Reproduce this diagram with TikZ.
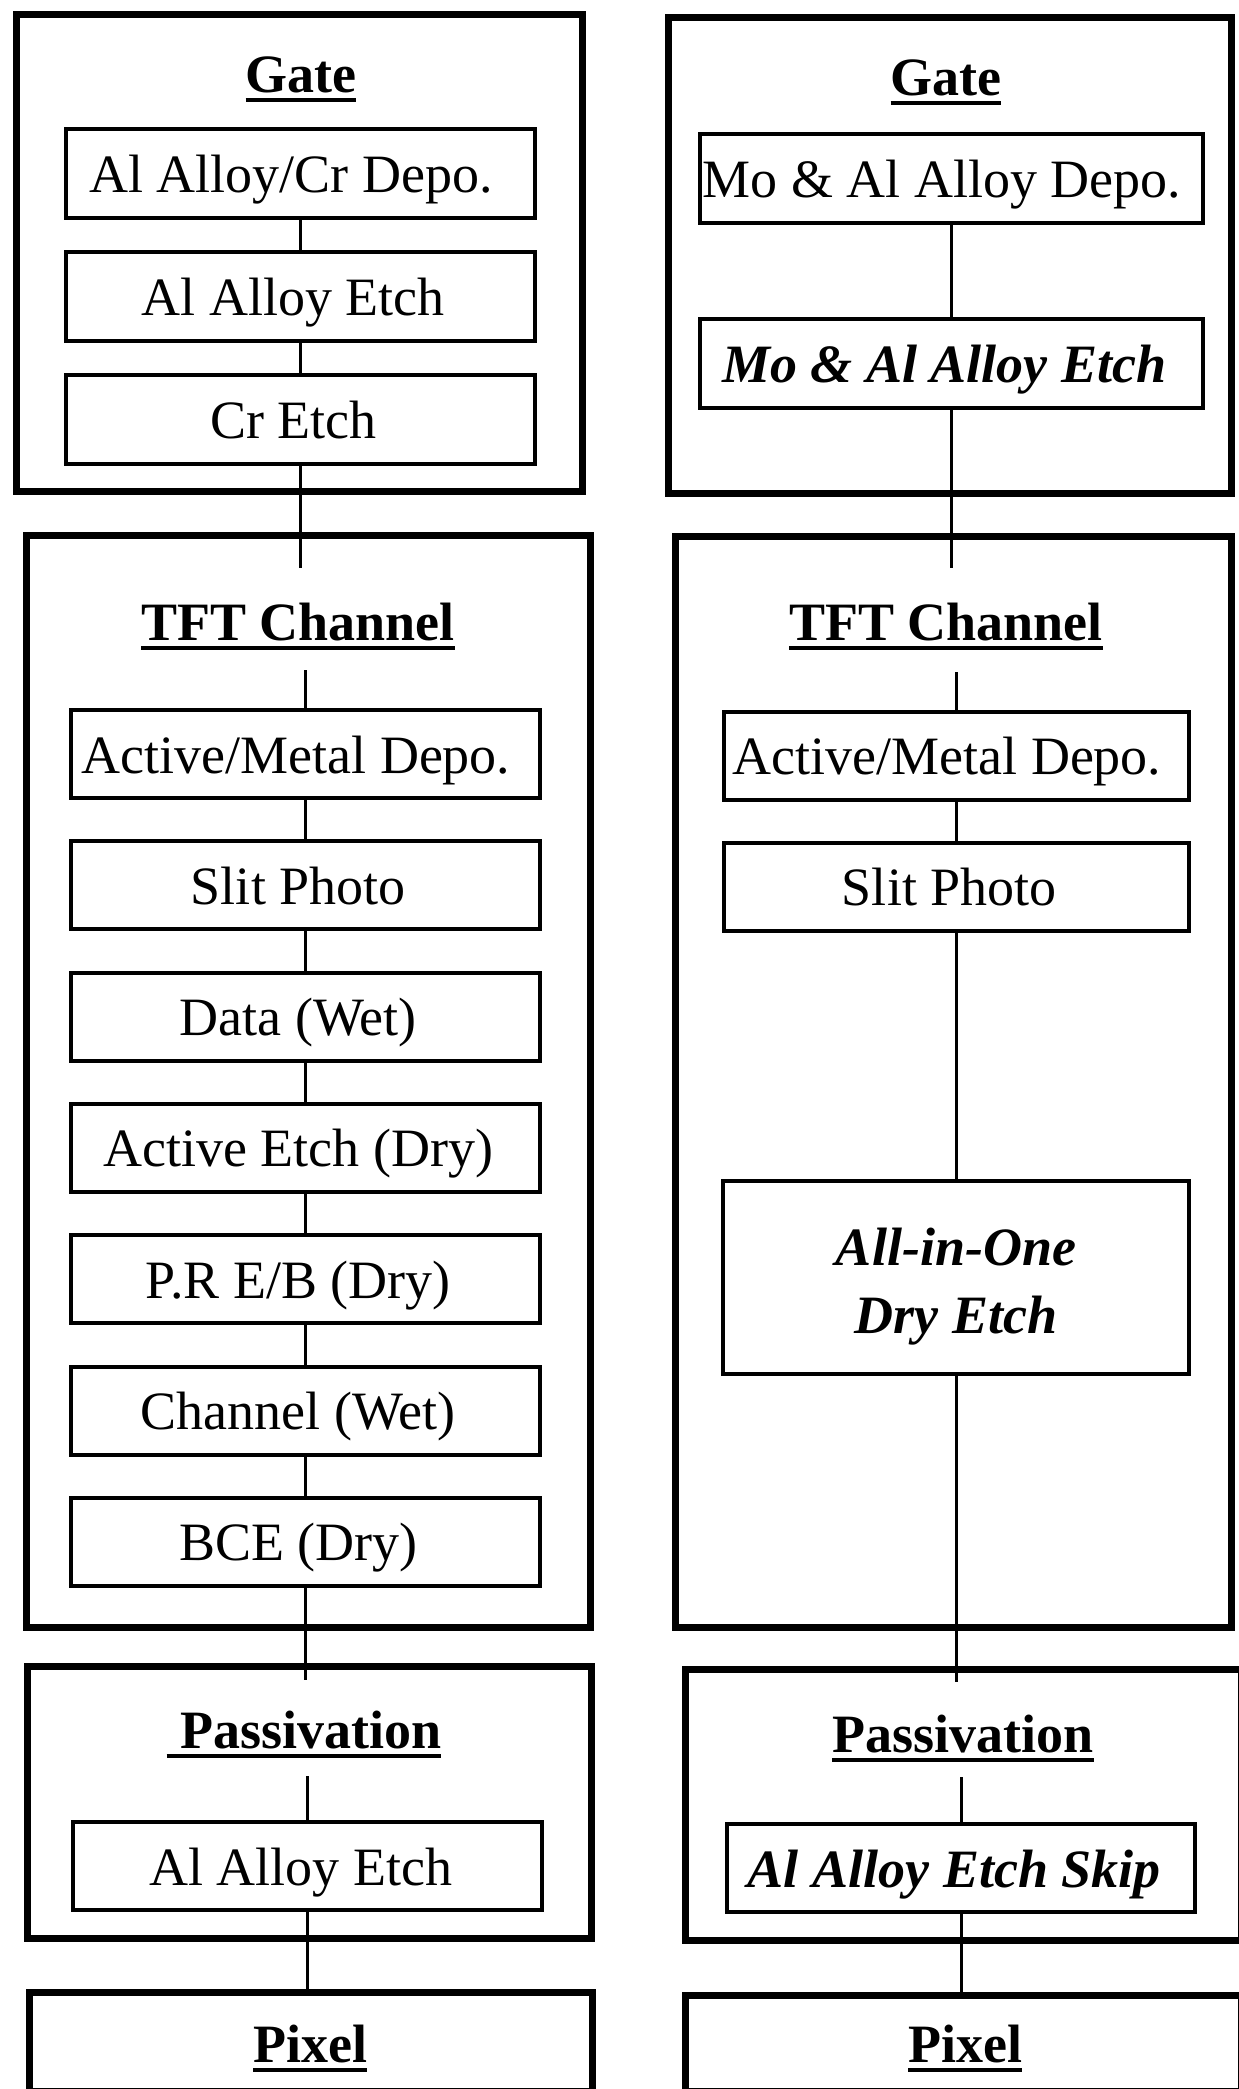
\documentclass[tikz,border=0pt]{standalone}
\usepackage{fontspec}
\setmainfont{Liberation Serif}
\usetikzlibrary{positioning}

\newcommand\headline[1]{\setbox0=\hbox{\textbf{#1}}\rlap{\vrule height -6pt depth 9.5pt width \wd0}\box0}

\begin{document}
\begin{tikzpicture}[x = 1pt, y = -1pt,
    every node/.style = { font = \fontsize{54}{68}\selectfont, align = center },
    stepbox/.style = { draw, line width = 4pt, inner sep = 0pt, minimum width = 469pt,
      minimum height = 88pt, text height = 50pt, text depth = 12pt },
    newstep/.style = { stepbox, font = \fontsize{54}{68}\selectfont\bfseries\itshape },
    frame/.style = { line width = 7pt },
    link/.style = { line width = 3pt },
    head/.style = { anchor = base, inner sep = 0pt }]
  \useasboundingbox (0,0) rectangle (1239,2089);

  \draw[frame] (16,14) rectangle (582,491);
  \node[head] (lgate) at (301,92) { \headline{Gate} };
  \node[stepbox, minimum height = 89pt] (lg1) at (300,173.5) { Al Alloy/Cr Depo. };
  \node[stepbox, minimum height = 89pt, below = 30pt of lg1] (lg2) { Al Alloy Etch };
  \node[stepbox, minimum height = 89pt, below = 30pt of lg2] (lg3) { Cr Etch };

  \draw[frame] (26,535) rectangle (590,1627);
  \node[head] (ltft) at (298,640) { \headline{TFT Channel} };
  \node[stepbox] (lt1) at (305,754) { Active/Metal Depo. };
  \node[stepbox, below = 39.3pt of lt1] (lt2) { Slit Photo };
  \node[stepbox, below = 39.3pt of lt2] (lt3) { Data (Wet) };
  \node[stepbox, below = 39.3pt of lt3] (lt4) { Active Etch (Dry) };
  \node[stepbox, below = 39.3pt of lt4] (lt5) { P.R E/B (Dry) };
  \node[stepbox, below = 39.3pt of lt5] (lt6) { Channel (Wet) };
  \node[stepbox, below = 39.3pt of lt6] (lt7) { BCE (Dry) };

  \draw[frame] (27,1666) rectangle (591,1938);
  \node[head] (lpas) at (304,1748) { \headline{\ Passivation} };
  \node[stepbox] (lp1) at (307.5,1866) { Al Alloy Etch };

  \draw[frame] (29,1992) rectangle (592,2091);
  \node[head] (lpix) at (310,2062) { \headline{Pixel} };

  \coordinate (ltftin) at (300,568);
  \coordinate (ltfttop) at (305,670);
  \coordinate (lpasin) at (305,1680);
  \coordinate (lpastop) at (307.5,1776);
  \coordinate (lpixtop) at (307.5,1992);
  \foreach \a/\b in {lg1/lg2, lg2/lg3, lg3/ltftin, ltfttop/lt1, lt1/lt2, lt2/lt3, lt3/lt4,
      lt4/lt5, lt5/lt6, lt6/lt7, lt7/lpasin, lpastop/lp1, lp1/lpixtop}
    \draw[link] (\a) -- (\b);

  \draw[frame] (668,17) rectangle (1231,493);
  \node[head] (rgate) at (946,95) { \headline{Gate} };
  \node[stepbox, minimum width = 503pt, minimum height = 89pt] (rg1) at (951,178.5) { Mo \& Al Alloy Depo. };
  \node[newstep, minimum width = 503pt, minimum height = 89pt, below = 92pt of rg1] (rg2) { Mo \& Al Alloy Etch };

  \draw[frame] (675,536) rectangle (1231,1627);
  \node[head] (rtft) at (946,640) { \headline{TFT Channel} };
  \node[stepbox, minimum width = 465pt] (rt1) at (956,755.5) { Active/Metal Depo. };
  \node[stepbox, minimum width = 465pt, below = 39pt of rt1] (rt2) { Slit Photo };
  \node[newstep, minimum width = 466pt, minimum height = 193pt, text height = , text depth = ,
    below = 246pt of rt2] (rt3)
    {\raisebox{-9pt}[\height][\depth]{\begin{tabular}{@{}c@{}}All-in-One\\Dry Etch\end{tabular}}};

  \draw[frame] (685,1669) rectangle (1241,1940);
  \node[head] (rpas) at (963,1752) { \headline{Passivation} };
  \node[newstep, minimum width = 468pt] (rp1) at (961,1868) { Al Alloy Etch Skip };

  \draw[frame] (685,1995) rectangle (1241,2091);
  \node[head] (rpix) at (965,2062) { \headline{Pixel} };

  \coordinate (rtftin) at (951,568);
  \coordinate (rtfttop) at (956,672);
  \coordinate (rpasin) at (956,1682);
  \coordinate (rpastop) at (961,1777);
  \coordinate (rpixtop) at (961,1995);
  \foreach \a/\b in {rg1/rg2, rg2/rtftin, rtfttop/rt1, rt1/rt2, rt2/rt3, rt3/rpasin,
      rpastop/rp1, rp1/rpixtop}
    \draw[link] (\a) -- (\b);
\end{tikzpicture}
\end{document}
